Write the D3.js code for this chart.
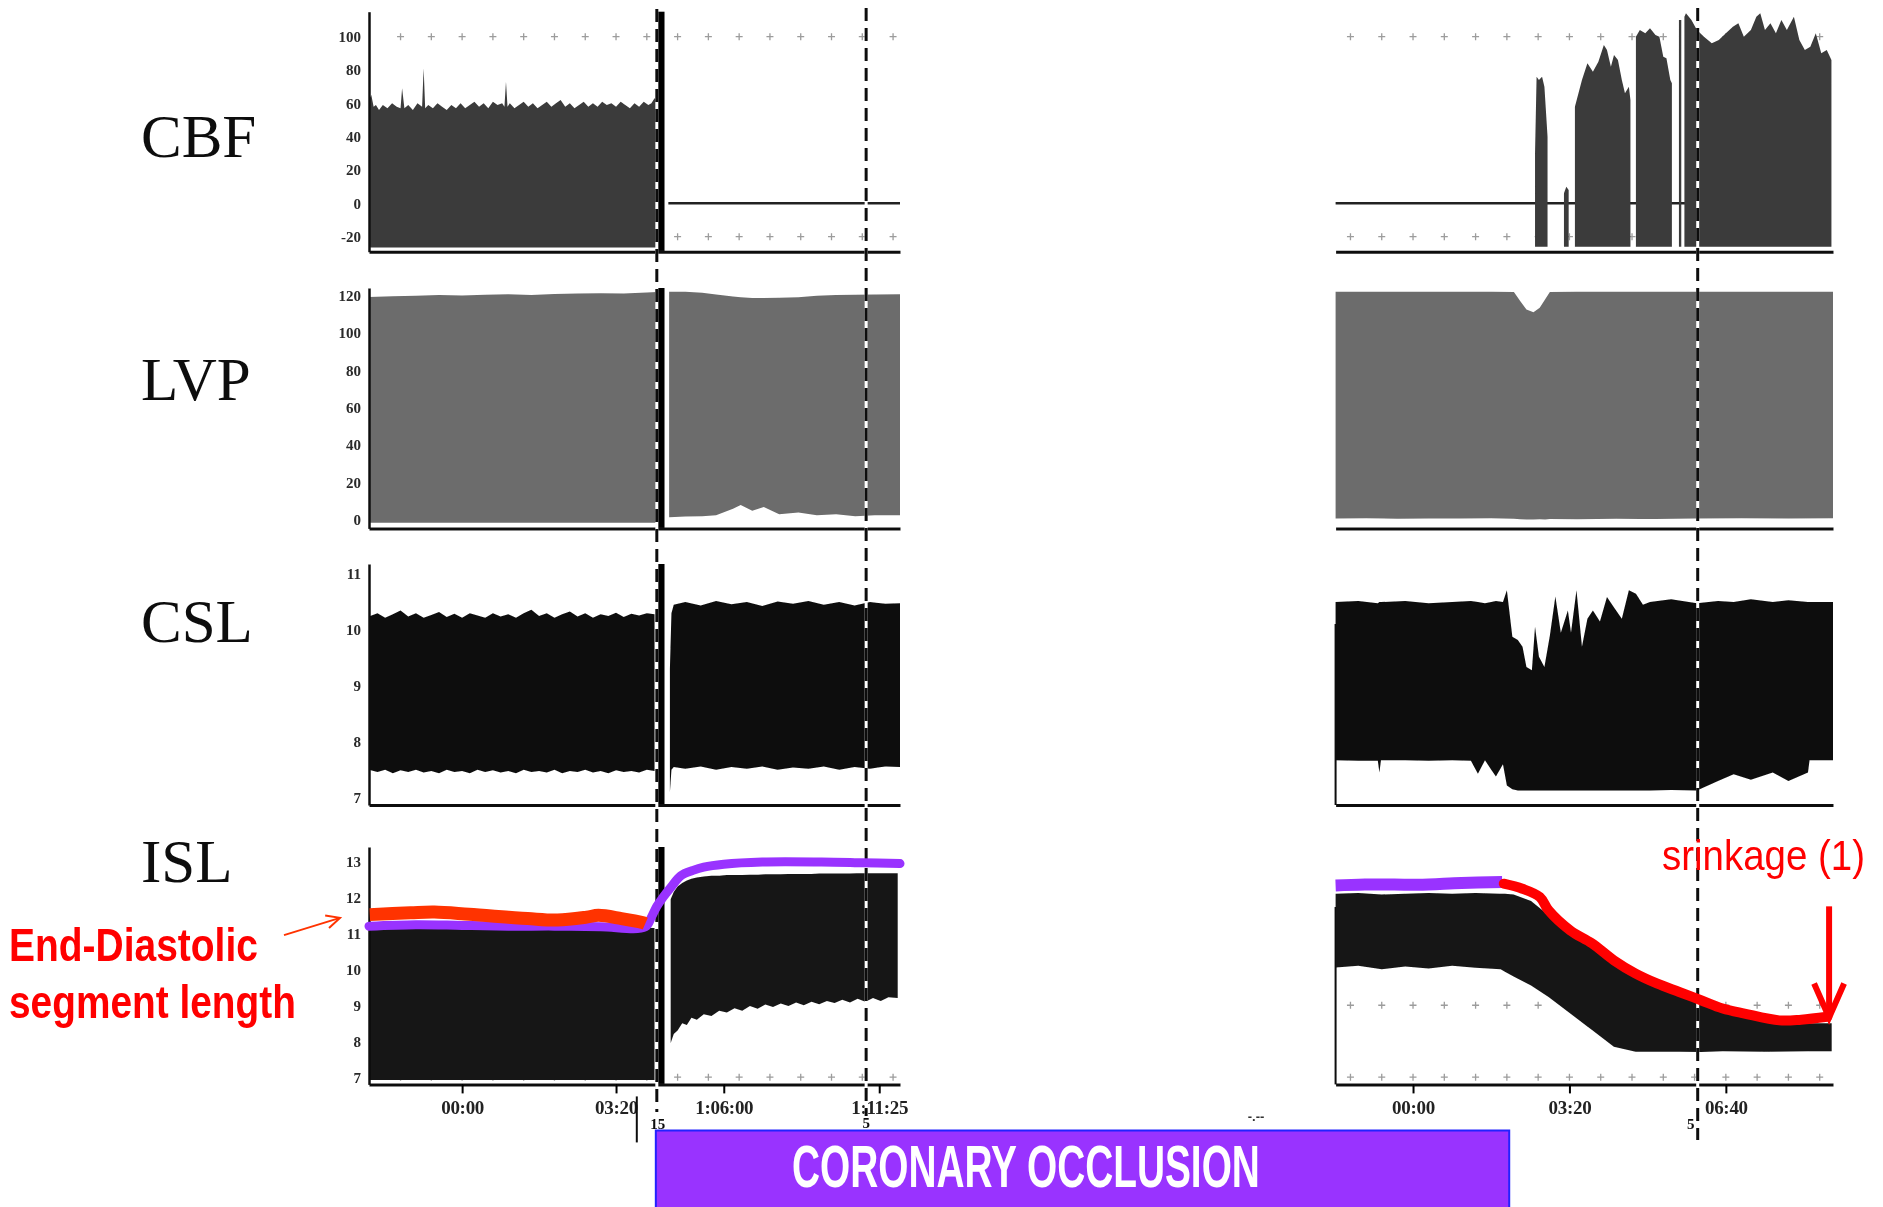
<!DOCTYPE html>
<html>
<head>
<meta charset="utf-8">
<title>Coronary occlusion - CBF / LVP / CSL / ISL</title>
<script src="https://cdn.jsdelivr.net/npm/d3@7"></script>
<style>
  body { margin: 0; background: #fff; }
  svg { display: block; }
  .ytick text { font: bold 15px "Liberation Serif", "Times New Roman", serif; fill: #2a2a2a; }
  .xtick text { font: bold 19px "Liberation Serif", "Times New Roman", serif; fill: #222; letter-spacing: -0.3px; }
  .name { font: 61px "Liberation Serif", "Times New Roman", serif; fill: #111; }
  .narrow { font-family: "Liberation Sans Narrow", "Arial Narrow", "Liberation Sans", Arial, sans-serif; }
</style>
</head>
<body>
<div id="chart"></div>
<script>
// ---------- values ----------
// (time in seconds from 00:00 of each record, values in channel units)

const panelNames = ["CBF", "LVP", "CSL", "ISL"];
const cbfTicks = [100, 80, 60, 40, 20, 0, -20];
const lvpTicks = [120, 100, 80, 60, 40, 20, 0];
const cslTicks = [11, 10, 9, 8, 7];
const islTicks = [13, 12, 11, 10, 9, 8, 7];

const leftTimeTicks = [0, 200, 340, 542];
const leftTimeLabels = ["00:00", "03:20", "1:06:00", "1:11:25"];
const rightTimeTicks = [0, 200, 400];
const rightTimeLabels = ["00:00", "03:20", "06:40"];

const occlusionT = 253;          // "15" marker
const occlusionBar = [253, 263]; // black artefact at the occlusion
const occlusionStartTick = 227;  // long tick under the axis
const markerLeftT = 525;         // "5" marker, left record
const markerRightT = 364;        // "5" marker, right record

// CBF
const cbfLeftT = [-121,-118,-115,-112,-108,-103,-97,-91,-85,-80,-78,-75,-70,-64,-58,-52,-50,-48,-44,-38,-32,-26,-20,-14,-8,-2,4,10,16,22,28,34,40,46,52,55,57,59,62,68,74,80,86,92,98,104,110,116,122,128,134,140,146,152,158,164,170,176,182,188,194,200,206,212,218,224,230,236,242,246,250,253];
const cbfLeftHi = [62,65,58,59,56, 59,57,60,58,57, 69,57,59,56,60, 58,81,57,59,57, 60,58,56,59,57, 60,57,59,61,58, 60,57,61,59,60, 58,73,58,60,57, 59,61,58,60,57, 59,61,58,60,62, 58,60,57,59,61, 58,60,58,61,59, 60,58,61,59,57, 60,58,61,59,60, 63,62];
const cbfLeftLo = -26.5;
const cbfZeroLeft = [268, 569];

const cbfRightT = [156,158,161,165,168,172,173, 193,196,199,200, 207,216,223,230,237,244,248,253,257,262,267,271,276,278,280, 285,290,297,303,310,315,320,324,329,331,333, 340,343,345, 347,349,356,363,372,382,391,400,409,416,423,432,439,444,450,457,464,471,478,487,494,501,508,515,522,529,535];
const cbfRightHi = [30,76,74,76,70,40,null, 6,10,8,null, 58,74,84,79,85,95,92,82,89,86,74,66,70,62,null, 100,104,102,105,101,100,88,87,74,72,null, 110,110,null, 112,114,110,104,100,96,98,102,106,108,100,104,112,114,104,108,102,110,104,112,98,92,94,102,90,92,86];
const cbfRightLo = -26;
const cbfZeroRight = [-99, 360];

// LVP
const lvpLeftT1 = [-121,-90,-60,-30,0,30,60,90,120,150,180,210,240,253];
const lvpLeftHi1 = [119.2,119.6,119.8,120.2,120,120.4,120.6,120.2,120.8,121,121.2,121,121.6,121.8];
const lvpLeftLo1 = -1.5;
const lvpLeftT2 = [269,290,312,330,352,362,377,392,412,437,461,486,511,536,569];
const lvpLeftHi2 = [122,122,121.5,120.5,119.5,119,118.6,118.6,118.8,119,119.8,120.2,120.4,120.5,120.6];
const lvpLeftLo2 = [1.5,1.8,2,2.5,6,8,5,7,3,4,2.5,3,2,2.5,2.5];
const lvpRightT = [-99,-60,-20,20,60,100,129,137,145,154,162,169,175,210,260,310,360,420,480,537];
const lvpRightHi = [122,122,122,122,122,122,121.8,117,112.5,111,113.5,118,121.8,122,122,122,122,122,122,122];
const lvpRightLo = [0.8,0.9,0.7,0.8,0.8,0.9,0.6,0.4,0.3,0.2,0.4,0.3,0.5,0.4,0.6,0.5,0.8,0.9,0.8,0.9];

// CSL
const cslLeftT1 = [-121,-110,-100,-90,-80,-70,-60,-50,-40,-30,-20,-10,0,10,20,30,40,50,60,70,80,90,100,110,120,130,140,150,160,170,180,190,200,210,220,230,240,250];
const cslLeftHi1 = [10.24,10.3,10.22,10.28,10.35, 10.24,10.3,10.22,10.27,10.32, 10.23,10.29,10.22,10.3,10.26, 10.22,10.3,10.24,10.28,10.22, 10.3,10.36,10.25,10.3,10.22, 10.28,10.33,10.24,10.3,10.22, 10.28,10.25,10.31,10.23,10.29, 10.26,10.3,10.28];
const cslLeftLo1 = [7.5,7.46,7.5,7.44,7.49, 7.46,7.5,7.45,7.48,7.44, 7.5,7.46,7.48,7.44,7.5, 7.46,7.49,7.45,7.48,7.44, 7.5,7.46,7.48,7.45,7.5, 7.44,7.48,7.46,7.5,7.45, 7.48,7.44,7.49,7.46,7.48, 7.45,7.5,7.48];
const cslLeftT2 = [270,272,275,290,310,330,350,370,390,410,430,450,470,490,510,530,550,569];
const cslLeftHi2 = [9.3,10.3,10.45,10.5,10.44,10.52,10.46,10.5,10.43,10.51,10.47,10.52,10.45,10.5,10.44,10.5,10.47,10.48];
const cslLeftLo2 = [7.1,7.5,7.55,7.52,7.56,7.5,7.55,7.52,7.56,7.5,7.54,7.52,7.56,7.5,7.55,7.52,7.56,7.55];
const cslRightT = [-99,-70,-45,-43,-41, -10,20,50,74,83, 92,100,106,115,120, 127,134,140,145,152, 156,161,168,175,182, 189,198,202,209,216, 223,230,239,248,257, 267,276,285,294,303, 330,363,390,410,432, 460,480,505,507,537];
const cslRightHi = [10.5,10.52,10.48,10.5,10.5, 10.52,10.48,10.5,10.52,10.5, 10.48,10.5,10.52,10.5,10.71, 9.88,9.82,9.7,9.34,9.28, 10.06,9.52,9.34,9.9,10.6, 9.95,10.35,9.95,10.71,9.7, 10.2,10.35,10.15,10.59,10.4, 10.2,10.71,10.65,10.45,10.5, 10.55,10.48,10.52,10.5,10.55, 10.5,10.53,10.5,10.5,10.5];
const cslRightLo = [7.67,7.66,7.66,7.45,7.67, 7.67,7.66,7.67,7.66,7.43, 7.67,7.5,7.38,7.6,7.22, 7.15,7.13,7.13,7.13,7.13, 7.13,7.13,7.13,7.13,7.13, 7.13,7.13,7.13,7.13,7.13, 7.13,7.13,7.13,7.13,7.13, 7.13,7.13,7.13,7.13,7.13, 7.14,7.13,7.3,7.42,7.32, 7.45,7.3,7.45,7.67,7.67];

// ISL
const islLeftT1 = [-121,-60,0,60,120,180,250];
const islLeftHi1 = [11.15,11.2,11.18,11.2,11.16,11.18,11.15];
const islLeftLo1 = 6.92;
const islLeftT2 = [271,275,280,286,292,298,305,314,324,334,344,354,364,374,384,394,404,414,424,434,444,454,464,474,484,494,504,514,524,534,544,554,566];
const islLeftHi2 = [11.95,12.15,12.3,12.4,12.47,12.52,12.55,12.58,12.6,12.6,12.62,12.62,12.62,12.63,12.63,12.64,12.64,12.64,12.65,12.65,12.65,12.65,12.66,12.66,12.66,12.66,12.66,12.67,12.67,12.67,12.67,12.67,12.67];
const islLeftLo2 = [7.95,8.2,8.3,8.5,8.45,8.65,8.6,8.75,8.7,8.85,8.8,8.92,8.85,8.98,8.9,9.02,8.95,9.05,8.98,9.08,9.0,9.1,9.03,9.12,9.06,9.15,9.08,9.18,9.1,9.2,9.12,9.22,9.2];
const islRightT = [-99,-70,-40,-10,20,50,80,112,117.5,128.6,150.9,173.3,201.1,228.9,256.8,284.7,312.5,340.4,368.2,396,451.8,507.4,535.3];
const islRightHi = [12.1,12.12,12.08,12.1,12.12,12.1,12.12,12.1,12.1,12.08,11.9,11.5,11.0,10.62,10.15,9.8,9.5,9.27,9.04,8.82,8.6,8.5,8.5];
const islRightLo = [10.05,10.1,10.0,10.08,10.02,10.1,10.04,10.0,9.93,9.8,9.55,9.23,8.77,8.31,7.85,7.71,7.71,7.71,7.7,7.72,7.71,7.72,7.72];

// hand-drawn end-diastolic traces on ISL
const edPurpleLeftT = [-121,-60,0,60,120,180,238,246,253,261,272,284,300,314,340,390,467,520,569];
const edPurpleLeftV = [11.2,11.24,11.22,11.2,11.2,11.18,11.18,11.45,11.75,12.0,12.3,12.6,12.75,12.84,12.92,12.98,12.98,12.96,12.94];
const edRedLeftT = [-120,-67,-36,9,85,124,162,177,207,234,238];
const edRedLeftV = [11.52,11.57,11.59,11.53,11.41,11.37,11.45,11.5,11.41,11.3,11.27];
const edPurpleRightT = [-99,-50,6,62,114];
const edPurpleRightV = [12.33,12.36,12.35,12.4,12.43];
const edRedRightT = [116,139.8,162.1,173.3,201.1,228.9,256.8,284.7,312.5,340.4,368.2,396,423.9,468.4,496.3,529.7];
const edRedRightV = [12.38,12.24,12.01,11.64,11.08,10.72,10.25,9.88,9.6,9.37,9.14,8.91,8.77,8.58,8.6,8.68];
const shrinkArrowT = 532;
const shrinkArrowV = [11.75, 8.66];

// ---------- layout ----------
const width = 1883, height = 1207;

const svg = d3.select("#chart").append("svg")
    .attr("width", width)
    .attr("height", height);

// slight softening, the original is a scan
svg.append("defs").append("filter").attr("id", "scan")
    .append("feGaussianBlur").attr("stdDeviation", 0.6);

const xL = d3.scaleLinear().domain([-121, 569]).range([369, 900]);
const xR = d3.scaleLinear().domain([-99, 537]).range([1335.6, 1833]);

const panels = [
    {top: 11.7, bottom: 251.7, domain: [-29, 115], ticks: cbfTicks, fill: "#3b3b3b", baseline: 157},
    {top: 288, bottom: 528.4, domain: [-4.5, 124], ticks: lvpTicks, fill: "#6c6c6c", baseline: 400},
    {top: 564, bottom: 805, domain: [6.87, 11.18], ticks: cslTicks, fill: "#0d0d0d", baseline: 642},
    {top: 847, bottom: 1084.4, domain: [6.8, 13.4], ticks: islTicks, fill: "#171717", baseline: 882}
];
panels.forEach((p, i) => {
    p.name = panelNames[i];
    p.y = d3.scaleLinear().domain(p.domain).range([p.bottom, p.top]);
});

const rows = (t, hi, lo) => t.map((d, i) => ({t: d, hi: hi[i], lo: Array.isArray(lo) ? lo[i] : lo}));

const bands = [
    {p: 0, x: xL, data: rows(cbfLeftT, cbfLeftHi, cbfLeftLo)},
    {p: 0, x: xR, data: rows(cbfRightT, cbfRightHi, cbfRightLo)},
    {p: 1, x: xL, data: rows(lvpLeftT1, lvpLeftHi1, lvpLeftLo1)},
    {p: 1, x: xL, data: rows(lvpLeftT2, lvpLeftHi2, lvpLeftLo2)},
    {p: 1, x: xR, data: rows(lvpRightT, lvpRightHi, lvpRightLo)},
    {p: 2, x: xL, data: rows(cslLeftT1, cslLeftHi1, cslLeftLo1)},
    {p: 2, x: xL, data: rows(cslLeftT2, cslLeftHi2, cslLeftLo2)},
    {p: 2, x: xR, data: rows(cslRightT, cslRightHi, cslRightLo)},
    {p: 3, x: xL, data: rows(islLeftT1, islLeftHi1, islLeftLo1)},
    {p: 3, x: xL, data: rows(islLeftT2, islLeftHi2, islLeftLo2)},
    {p: 3, x: xR, data: rows(islRightT, islRightHi, islRightLo)}
];

// rows of little "+" grid marks left on the paper
const crossRows = [
    {p: 0, x: xL, v: 100}, {p: 0, x: xL, v: -20},
    {p: 0, x: xR, v: 100}, {p: 0, x: xR, v: -20},
    {p: 3, x: xL, v: 7},
    {p: 3, x: xR, v: 9}, {p: 3, x: xR, v: 7}
];

const rec = svg.append("g").attr("filter", "url(#scan)");

// grid marks
crossRows.forEach(r => {
    const p = panels[r.p], x = r.x, yy = p.y(r.v);
    rec.append("g")
        .attr("stroke", "#9c9c9c")
        .attr("stroke-width", 1.3)
        .selectAll("path")
        .data(d3.range(-80, x.domain()[1], 40))
        .join("path")
        .attr("d", t => `M${x(t) - 3.5},${yy}h7M${x(t)},${yy - 3.5}v7`);
});

// CBF zero lines
const cbf = panels[0];
[[xL, cbfZeroLeft], [xR, cbfZeroRight]].forEach(([x, ext]) => {
    rec.append("line")
        .attr("x1", x(ext[0])).attr("x2", x(ext[1]))
        .attr("y1", cbf.y(0)).attr("y2", cbf.y(0))
        .attr("stroke", "#222").attr("stroke-width", 2.5);
});

// signal envelopes
bands.forEach(b => {
    const p = panels[b.p];
    const area = d3.area()
        .defined(d => d.hi != null)
        .x(d => b.x(d.t))
        .y0(d => p.y(d.lo))
        .y1(d => p.y(d.hi));
    rec.append("path")
        .datum(b.data)
        .attr("fill", p.fill)
        .attr("d", area);
});

// occlusion artefact on the left record
panels.forEach(p => {
    rec.append("rect")
        .attr("x", xL(occlusionBar[0]))
        .attr("width", xL(occlusionBar[1]) - xL(occlusionBar[0]))
        .attr("y", p.y(p.domain[1]))
        .attr("height", p.y(p.domain[0]) - p.y(p.domain[1]))
        .attr("fill", "#050505");
});

// right record: short left axis stubs under CSL and ISL
[panels[2], panels[3]].forEach(p => {
    rec.append("line")
        .attr("x1", xR.range()[0]).attr("x2", xR.range()[0])
        .attr("y1", p.bottom).attr("y2", p.top + 60)
        .attr("stroke", "#111").attr("stroke-width", 2);
});

// axes
panels.forEach(p => {
    const ax = rec.append("g")
        .attr("class", "ytick")
        .attr("transform", `translate(${xL.range()[0]},0)`)
        .call(d3.axisLeft(p.y).tickValues(p.ticks).tickFormat(d => String(d))
            .tickSize(0).tickPadding(8).tickSizeOuter(0));
    ax.select(".domain").attr("stroke", "#111").attr("stroke-width", 2.5);

    [xL, xR].forEach(x => {
        rec.append("g")
            .attr("transform", `translate(0,${p.bottom})`)
            .call(d3.axisBottom(x).tickValues([]).tickSizeOuter(0))
            .select(".domain").attr("stroke", "#111").attr("stroke-width", 3);
    });

    rec.append("text")
        .attr("class", "name")
        .attr("x", 141)
        .attr("y", p.baseline)
        .text(p.name);
});

// time axis under ISL
const isl = panels[3];
[[xL, leftTimeTicks, leftTimeLabels], [xR, rightTimeTicks, rightTimeLabels]].forEach(([x, ticks, labels]) => {
    rec.append("g")
        .attr("class", "xtick")
        .attr("transform", `translate(0,${isl.bottom})`)
        .call(d3.axisBottom(x).tickValues(ticks).tickFormat((d, i) => labels[i]).tickSize(9).tickPadding(7).tickSizeOuter(0))
        .call(g => g.select(".domain").remove())
        .call(g => g.selectAll("line").attr("stroke-width", 2));
});

// event ticks and their numbers
const events = [
    {x: xL, t: occlusionT, label: "15", y: 1129, dx: 1},
    {x: xL, t: markerLeftT, label: "5", y: 1128, dx: 0},
    {x: xR, t: markerRightT, label: "5", y: 1129, dx: -7}
];
events.forEach(e => {
    rec.append("line")
        .attr("x1", e.x(e.t)).attr("x2", e.x(e.t))
        .attr("y1", isl.bottom).attr("y2", isl.bottom + 9)
        .attr("stroke", "#111").attr("stroke-width", 2);
    rec.append("text")
        .attr("x", e.x(e.t) + e.dx)
        .attr("y", e.y)
        .attr("text-anchor", "middle")
        .style("font", 'bold 15px "Liberation Serif", serif')
        .attr("fill", "#111")
        .text(e.label);
});
rec.append("line")
    .attr("x1", xL(occlusionStartTick)).attr("x2", xL(occlusionStartTick))
    .attr("y1", isl.bottom + 12).attr("y2", isl.bottom + 58)
    .attr("stroke", "#111").attr("stroke-width", 2);

// dashed event lines (white under black dashes so they read on dark fills too)
const dashLines = [
    {x: xL(occlusionT), y0: 9, y1: 1112},
    {x: xL(markerLeftT), y0: 8, y1: 1116},
    {x: xR(markerRightT), y0: 8, y1: 1140}
];
dashLines.forEach(d => {
    rec.append("line")
        .attr("x1", d.x).attr("x2", d.x).attr("y1", d.y0).attr("y2", d.y1)
        .attr("stroke", "#fff").attr("stroke-width", 3);
    rec.append("line")
        .attr("x1", d.x).attr("x2", d.x).attr("y1", d.y0).attr("y2", d.y1)
        .attr("stroke", "#111").attr("stroke-width", 3)
        .attr("stroke-dasharray", "13,7");
});

rec.append("text")
    .attr("x", 1256).attr("y", 1121)
    .attr("text-anchor", "middle")
    .style("font", "bold 13px 'Liberation Sans', sans-serif")
    .attr("fill", "#333")
    .text("-.--");

// ---------- annotations ----------
const notes = svg.append("g");

// narrow lettering: squeeze the text to the width it has in the picture
function narrowText(str, x, y, size, weight, fill, targetW) {
    const t = notes.append("text")
        .attr("class", "narrow")
        .attr("font-size", size)
        .attr("font-weight", weight)
        .attr("fill", fill)
        .text(str);
    const w = t.node().getComputedTextLength();
    t.attr("transform", `translate(${x},${y}) scale(${targetW / w},1)`);
    return t;
}

const edLine = x => d3.line()
    .x(d => x(d.t))
    .y(d => isl.y(d.v))
    .curve(d3.curveCatmullRom.alpha(0.5));
const pts = (t, v) => t.map((d, i) => ({t: d, v: v[i]}));

notes.append("path").datum(pts(edPurpleLeftT, edPurpleLeftV))
    .attr("d", edLine(xL)).attr("fill", "none")
    .attr("stroke", "#9933ff").attr("stroke-width", 9).attr("stroke-linecap", "round");
notes.append("path").datum(pts(edRedLeftT, edRedLeftV))
    .attr("d", edLine(xL)).attr("fill", "none")
    .attr("stroke", "#ff3300").attr("stroke-width", 13);
notes.append("path").datum(pts(edPurpleRightT, edPurpleRightV))
    .attr("d", edLine(xR)).attr("fill", "none")
    .attr("stroke", "#9933ff").attr("stroke-width", 12);
notes.append("path").datum(pts(edRedRightT, edRedRightV))
    .attr("d", edLine(xR)).attr("fill", "none")
    .attr("stroke", "#ff0000").attr("stroke-width", 10).attr("stroke-linecap", "round");

// shrinkage arrow
const ax0 = xR(shrinkArrowT), ay0 = isl.y(shrinkArrowV[0]), ay1 = isl.y(shrinkArrowV[1]);
notes.append("line")
    .attr("x1", ax0).attr("x2", ax0).attr("y1", ay0).attr("y2", ay1 - 4)
    .attr("stroke", "#ff0000").attr("stroke-width", 6);
notes.append("path")
    .attr("d", `M${ax0 - 15},${ay1 - 34}L${ax0},${ay1}L${ax0 + 15},${ay1 - 34}`)
    .attr("fill", "none").attr("stroke", "#ff0000").attr("stroke-width", 6)
    .attr("stroke-linejoin", "miter");

narrowText("srinkage (1)", 1662, 870, 42, "normal", "#ff0000", 203);

// end-diastolic label with its thin arrow
const tipX = xL.range()[0] - 29, tipY = isl.y(11.43);
const tailX = xL.range()[0] - 85, tailY = isl.y(10.95);
notes.append("line")
    .attr("x1", tailX).attr("y1", tailY).attr("x2", tipX).attr("y2", tipY)
    .attr("stroke", "#ff3300").attr("stroke-width", 2);
const ang = Math.atan2(tipY - tailY, tipX - tailX);
const wing = a => [tipX - 15 * Math.cos(ang + a), tipY - 15 * Math.sin(ang + a)];
notes.append("path")
    .attr("d", `M${wing(0.45)}L${tipX},${tipY}L${wing(-0.45)}`)
    .attr("fill", "none").attr("stroke", "#ff3300").attr("stroke-width", 2);

narrowText("End-Diastolic", 9, 961, 47, "bold", "#ff0000", 249);
narrowText("segment length", 9, 1018, 47, "bold", "#ff0000", 287);

// occlusion banner
const boxX = xL(occlusionT) - 1;
notes.append("rect")
    .attr("x", boxX).attr("y", 1130.5)
    .attr("width", xR(123) - boxX).attr("height", 80)
    .attr("fill", "#9933ff")
    .attr("stroke", "#2222ff").attr("stroke-width", 2);
narrowText("CORONARY OCCLUSION", 792, 1187, 60, "bold", "#fff", 468);
</script>
</body>
</html>
